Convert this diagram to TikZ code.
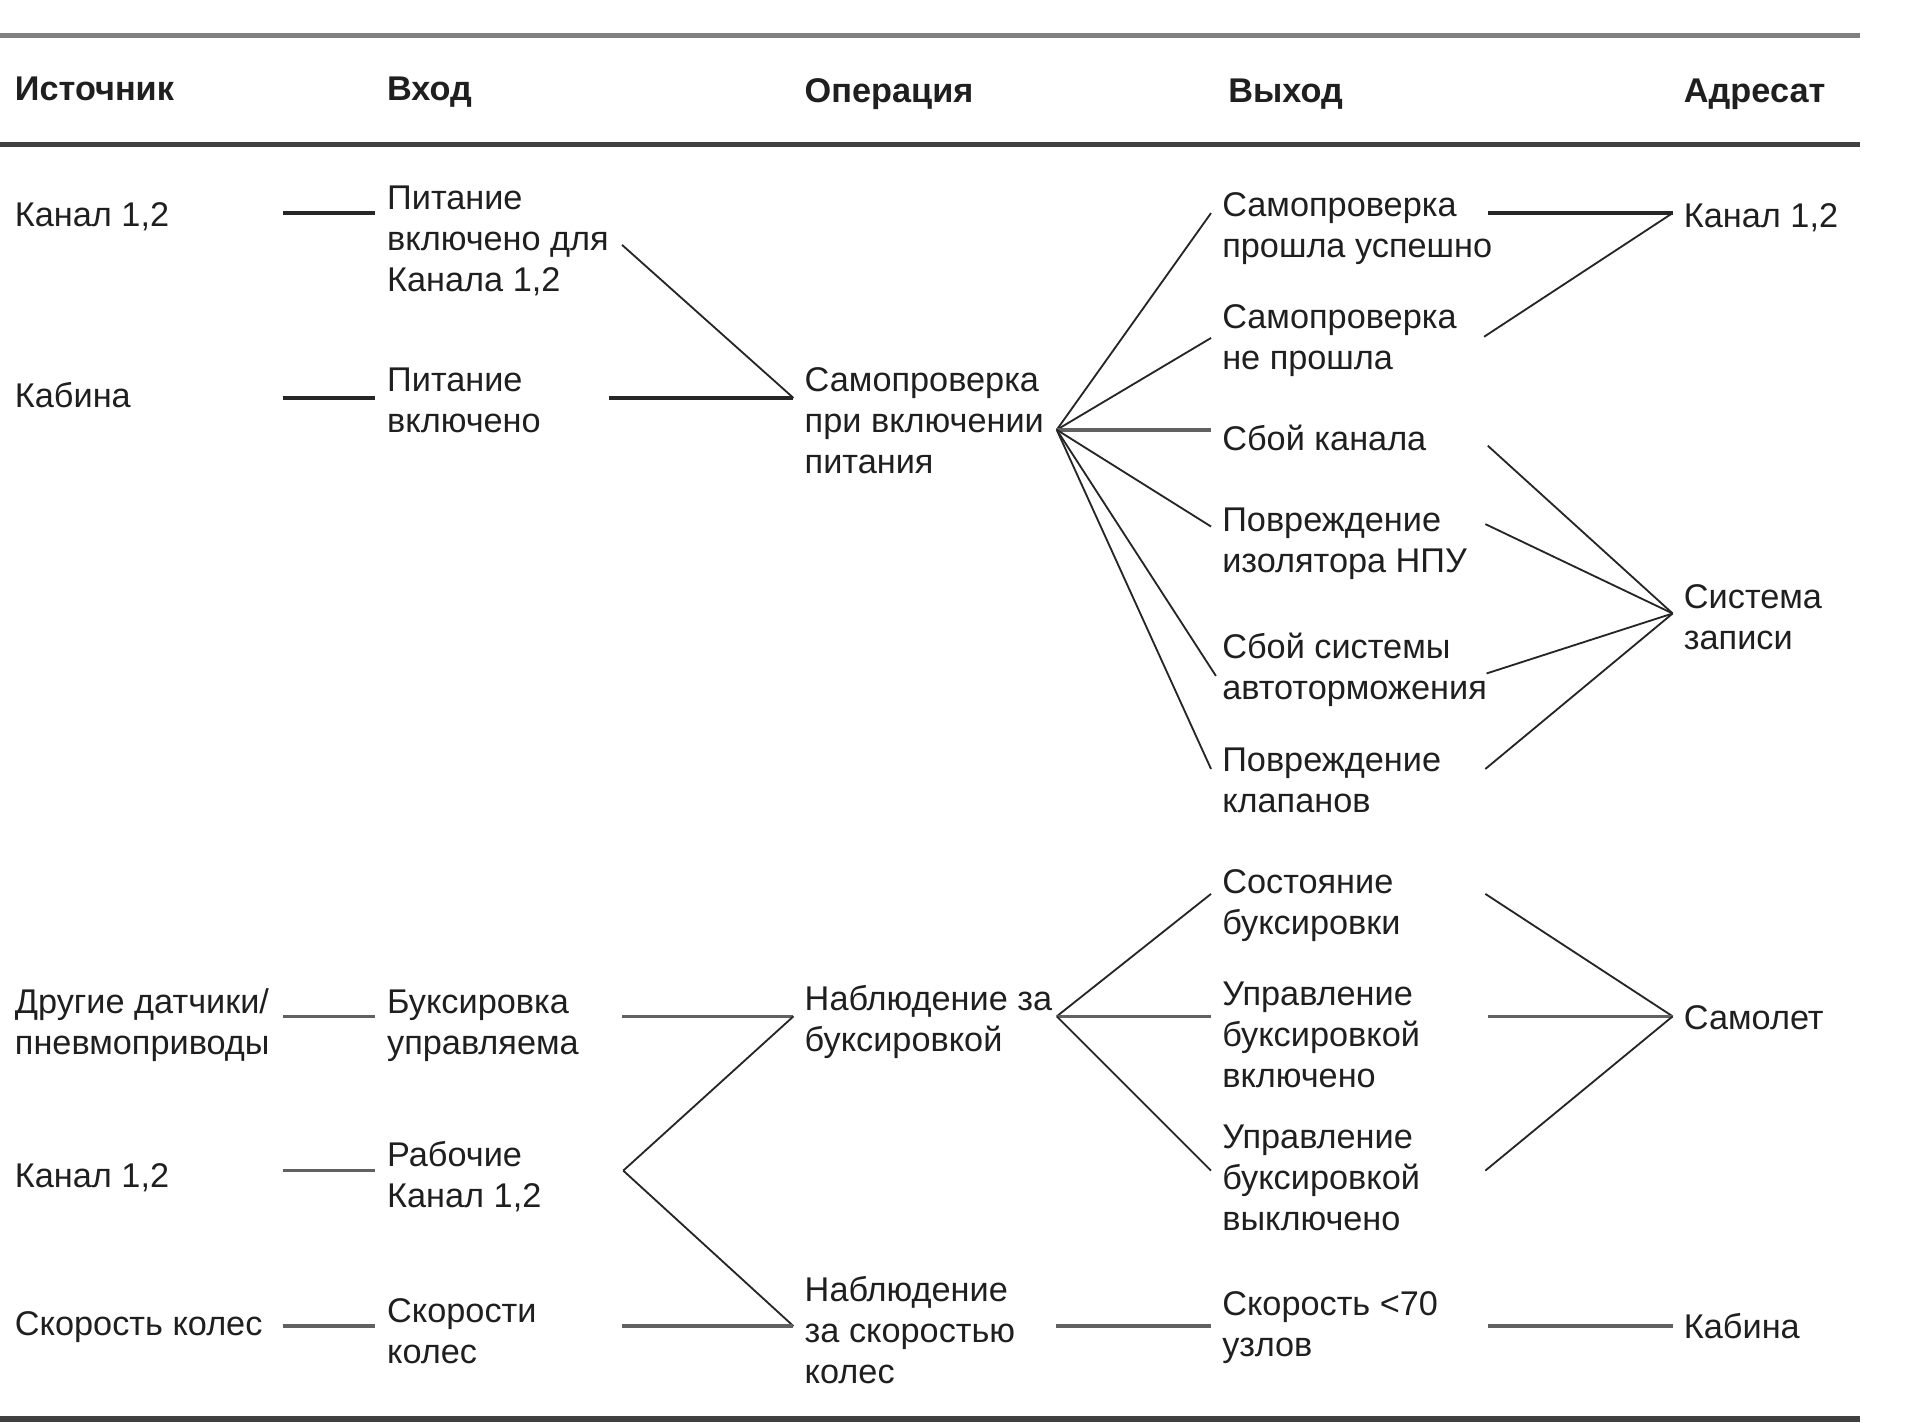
\documentclass[tikz,border=0pt]{standalone}
\usepackage{fontspec}
\setmainfont{Liberation Sans}
\begin{document}
\begin{tikzpicture}[x=1pt,y=-1pt,
  txt/.style={anchor=base west, inner sep=0pt, align=left, font=\fontsize{28}{33.5}\selectfont, text=black!88},
  hdr/.style={anchor=base west, inner sep=0pt, font=\fontsize{28}{30}\selectfont\bfseries, text=black!88},
  hl/.style={line width=2.8pt, draw=black!85},
  hlg/.style={line width=3pt, draw=black!62},
  dl/.style={line width=1.5pt, draw=black!85},
  rulea/.style={line width=4pt, draw=black!50},
  ruleb/.style={line width=4pt, draw=black!75}]
\useasboundingbox (0,0) rectangle (1568,1162);

% rules
\coordinate (t1) at (0,29);   \coordinate (t2) at (1519,29);
\coordinate (t3) at (0,118);  \coordinate (t4) at (1519,118);
\coordinate (t5) at (0,1158.5); \coordinate (t6) at (1519,1158.5);
\draw[rulea] (t1) -- (t2);
\draw[ruleb] (t3) -- (t4);
\draw[ruleb, line width=5pt] (t5) -- (t6);

% headers
\node[hdr] (hA) at (12,82) {Источник};
\node[hdr] (hB) at (316,82) {Вход};
\node[hdr] (hC) at (657,84) {Операция};
\node[hdr] (hD) at (1003,84) {Выход};
\node[hdr] (hE) at (1375,84) {Адресат};

% column 1: sources (y = baseline of last line)
\node[txt] (s1) at (12,185) {Канал 1,2};
\node[txt] (s2) at (12,333) {Кабина};
\node[txt] (s3) at (12,861.5) {Другие датчики/\\пневмоприводы};
\node[txt] (s4) at (12,970) {Канал 1,2};
\node[txt] (s5) at (12,1091) {Скорость колес};

% column 2: inputs
\node[txt] (i1) at (316,238) {Питание\\включено для\\Канала 1,2};
\node[txt] (i2) at (316,353.5) {Питание\\включено};
\node[txt] (i3) at (316,861.5) {Буксировка\\управляема};
\node[txt] (i4) at (316,986.5) {Рабочие\\Канал 1,2};
\node[txt] (i5) at (316,1113.5) {Скорости\\колес};

% column 3: operations
\node[txt] (p1) at (657,387) {Самопроверка\\при включении\\питания};
\node[txt] (p2) at (657,858.5) {Наблюдение за\\буксировкой};
\node[txt] (p3) at (657,1130) {Наблюдение\\за скоростью\\колес};

% column 4: outputs
\node[txt] (q1) at (998,210.5) {Самопроверка\\прошла успешно};
\node[txt] (q2) at (998,301.5) {Самопроверка\\не прошла};
\node[txt] (q3) at (998,368) {Сбой канала};
\node[txt] (q4) at (998,467.5) {Повреждение\\изолятора НПУ};
\node[txt] (q5) at (998,571.5) {Сбой системы\\автоторможения};
\node[txt] (q6) at (998,663.5) {Повреждение\\клапанов};
\node[txt] (q7) at (998,763.5) {Состояние\\буксировки};
\node[txt] (q8) at (998,888) {Управление\\буксировкой\\включено};
\node[txt] (q9) at (998,1005) {Управление\\буксировкой\\выключено};
\node[txt] (q10) at (998,1107.5) {Скорость <70\\узлов};

% column 5: destinations
\node[txt] (d1) at (1375,186) {Канал 1,2};
\node[txt] (d2) at (1375,530.5) {Система\\записи};
\node[txt] (d3) at (1375,841) {Самолет};
\node[txt] (d4) at (1375,1093) {Кабина};

% connector end points
\coordinate (a1) at (231,174);  \coordinate (b1) at (306,174);
\coordinate (a2) at (231,325);  \coordinate (b2) at (306,325);
\coordinate (c1) at (508,200);  \coordinate (c2) at (497,325);
\coordinate (op1) at (648,325);
\coordinate (h1) at (863,351);
\coordinate (o1) at (989,174);  \coordinate (o2) at (989,276);
\coordinate (o3) at (989,351);  \coordinate (o4) at (989,430);
\coordinate (o5) at (993,552);  \coordinate (o6) at (989,628);
\coordinate (r1) at (1215,174); \coordinate (r2) at (1212,275);
\coordinate (x1) at (1366,174);
\coordinate (r3) at (1215,364); \coordinate (r4) at (1213,428);
\coordinate (r5) at (1214,550); \coordinate (r6) at (1213,628);
\coordinate (x2) at (1366,501);

\coordinate (a3) at (231,830);  \coordinate (b3) at (306,830);
\coordinate (c3) at (508,830);  \coordinate (op2) at (648,830);
\coordinate (a4) at (231,956);  \coordinate (b4) at (306,956);
\coordinate (h4) at (509,956);
\coordinate (a5) at (231,1083); \coordinate (b5) at (306,1083);
\coordinate (c5) at (508,1083); \coordinate (op3) at (648,1083);
\coordinate (h2) at (863,830);
\coordinate (o7) at (989,730);  \coordinate (o8) at (989,830);
\coordinate (o9) at (989,956);
\coordinate (r7) at (1213,730); \coordinate (r8) at (1215,830);
\coordinate (r9) at (1213,956);
\coordinate (x3) at (1366,830);
\coordinate (h3) at (862,1083); \coordinate (o10) at (989,1083);
\coordinate (r10) at (1215,1083); \coordinate (x4) at (1366,1083);

% upper group connectors
\draw[hl] (a1) -- (b1);
\draw[hl] (a2) -- (b2);
\draw[dl] (c1) -- (op1);
\draw[hl] (c2) -- (op1);
\draw[dl] (h1) -- (o1);
\draw[dl] (h1) -- (o2);
\draw[hlg] (h1) -- (o3);
\draw[dl] (h1) -- (o4);
\draw[dl] (h1) -- (o5);
\draw[dl] (h1) -- (o6);
\draw[hl] (r1) -- (x1);
\draw[dl] (r2) -- (x1);
\draw[dl] (r3) -- (x2);
\draw[dl] (r4) -- (x2);
\draw[dl] (r5) -- (x2);
\draw[dl] (r6) -- (x2);

% lower group connectors
\draw[hlg] (a3) -- (b3);
\draw[hlg] (c3) -- (op2);
\draw[hlg] (a4) -- (b4);
\draw[dl] (h4) -- (op2);
\draw[dl] (h4) -- (op3);
\draw[hlg] (a5) -- (b5);
\draw[hlg] (c5) -- (op3);
\draw[dl] (h2) -- (o7);
\draw[hlg] (h2) -- (o8);
\draw[dl] (h2) -- (o9);
\draw[dl] (r7) -- (x3);
\draw[hlg] (r8) -- (x3);
\draw[dl] (r9) -- (x3);
\draw[hlg] (h3) -- (o10);
\draw[hlg] (r10) -- (x4);
\end{tikzpicture}
\end{document}
